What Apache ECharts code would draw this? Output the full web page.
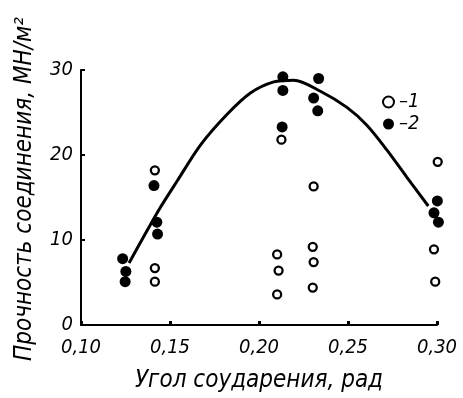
<!DOCTYPE html>
<html><head><meta charset="utf-8">
<script src="https://cdn.jsdelivr.net/npm/echarts@6/dist/echarts.min.js"></script>
<style>html,body{margin:0;padding:0;background:#fff}#c{width:463px;height:398px}</style>
</head><body><div id="c"></div>
<script>
// Series 1 (open circles): [angle, strength]
const openX = [0.1415, 0.1415, 0.1415, 0.2126, 0.2102, 0.2110, 0.2102, 0.2307, 0.2302, 0.2307, 0.2302, 0.3004, 0.2983, 0.2990];
const openY = [18.2, 6.7, 5.1, 21.8, 8.3, 6.4, 3.6, 16.3, 9.2, 7.4, 4.4, 19.2, 8.9, 5.1];
// Series 2 (filled circles)
const fillX = [0.1234, 0.1252, 0.1248, 0.1410, 0.1426, 0.1430, 0.2134, 0.2134, 0.2130, 0.2335, 0.2307, 0.2330, 0.3002, 0.2983, 0.3008];
const fillY = [7.8, 6.3, 5.1, 16.4, 12.1, 10.7, 29.2, 27.6, 23.3, 29.0, 26.7, 25.2, 14.6, 13.2, 12.1];
// Fitted curve
const curveX = [0.127, 0.1355, 0.1439, 0.1542, 0.1672, 0.1821, 0.1952, 0.2083, 0.2195, 0.2345, 0.2494, 0.2606, 0.2718, 0.283, 0.2951];
const curveY = [7.3, 10.5, 13.6, 17.0, 21.2, 24.8, 27.3, 28.6, 28.8, 27.5, 25.6, 23.5, 20.6, 17.4, 14.0];
const xTicks = [0.10, 0.15, 0.20, 0.25, 0.30];
const yTicks = [0, 10, 20, 30];
const legendNames = ['–1', '–2'];
const xTitle = 'Угол соударения, рад';
const yTitle = 'Прочность соединения, МН/м²';

const FONT = "'Liberation Sans Narrow','DejaVu Sans Condensed',sans-serif";
const zip = (a, b) => a.map((v, i) => [v, b[i]]);
const chart = echarts.init(document.getElementById('c'));
chart.setOption({
  animation: false,
  backgroundColor: '#fff',
  grid: {left: 81, right: 26, top: 70, bottom: 66, containLabel: false},
  legend: {
    orient: 'vertical', left: 377, top: 87, itemWidth: 11, itemHeight: 11, itemGap: 2,
    data: legendNames,
    textStyle: {fontFamily: FONT, fontStyle: 'italic', fontSize: 20, color: '#000'}
  },
  graphic: [{
    type: 'text', x: 25, y: 189, rotation: Math.PI / 2,
    style: {text: yTitle, fontFamily: FONT, fontStyle: 'italic', fontSize: 24, fill: '#000',
            textAlign: 'center', textVerticalAlign: 'middle'}
  }],
  xAxis: {
    type: 'value', min: 0.10, max: 0.30, interval: 0.05,
    name: xTitle, nameLocation: 'middle', nameGap: 44,
    nameTextStyle: {fontFamily: FONT, fontStyle: 'italic', fontSize: 24, color: '#000'},
    axisLine: {lineStyle: {color: '#000', width: 2}},
    axisTick: {inside: true, length: 4, lineStyle: {color: '#000', width: 3}},
    splitLine: {show: false},
    axisLabel: {
      margin: 13, fontFamily: FONT, fontStyle: 'italic', fontSize: 20, color: '#000',
      formatter: v => { const t = xTicks.find(x => Math.abs(x - v) < 1e-9); return t === undefined ? '' : t.toFixed(2).replace('.', ','); }
    }
  },
  yAxis: {
    type: 'value', min: 0, max: 30, interval: 10,
    axisLine: {show: true, lineStyle: {color: '#000', width: 2}},
    axisTick: {show: true, inside: true, length: 4, lineStyle: {color: '#000', width: 2}},
    splitLine: {show: false},
    axisLabel: {
      margin: 8, fontFamily: FONT, fontStyle: 'italic', fontSize: 20, color: '#000',
      formatter: v => yTicks.includes(v) ? String(v) : ''
    }
  },
  series: [
    {
      type: 'line', data: zip(curveX, curveY), smooth: 0.3, symbol: 'none',
      lineStyle: {color: '#000', width: 3}, silent: true, z: 1
    },
    {
      name: legendNames[0], type: 'scatter', data: zip(openX, openY), clip: false,
      symbol: 'circle', symbolSize: 8,
      itemStyle: {color: '#fff', borderColor: '#000', borderWidth: 2.3, opacity: 1}, z: 3
    },
    {
      name: legendNames[1], type: 'scatter', data: zip(fillX, fillY), clip: false,
      symbol: 'circle', symbolSize: 11,
      itemStyle: {color: '#000', opacity: 1}, z: 3
    }
  ]
});
</script></body></html>
